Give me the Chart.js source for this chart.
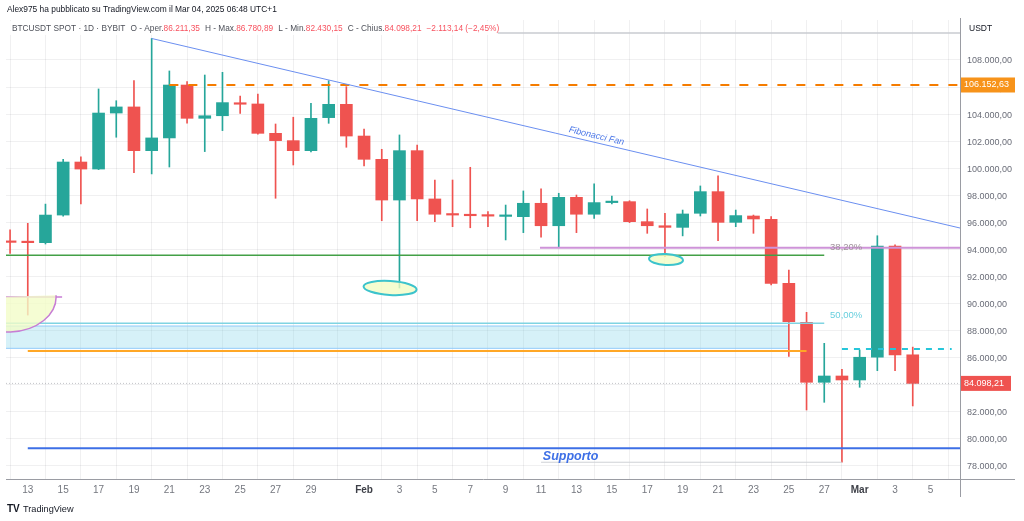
<!DOCTYPE html>
<html>
<head>
<meta charset="utf-8">
<script src="https://cdn.jsdelivr.net/npm/chart.js@4.4.1/dist/chart.umd.min.js"></script>
<style>
  html, body { margin: 0; padding: 0; background: #fff; }
  #wrap { width: 1024px; height: 521px; }
</style>
</head>
<body>
<div id="wrap"><canvas id="chart" width="1024" height="521"></canvas></div>
<script>
// daily candles, Jan 12 -> Mar 4 2025 (index 0 = Jan 12)
const dates = ['Jan 12','Jan 13','Jan 14','Jan 15','Jan 16','Jan 17','Jan 18','Jan 19','Jan 20','Jan 21',
  'Jan 22','Jan 23','Jan 24','Jan 25','Jan 26','Jan 27','Jan 28','Jan 29','Jan 30','Jan 31',
  'Feb 1','Feb 2','Feb 3','Feb 4','Feb 5','Feb 6','Feb 7','Feb 8','Feb 9','Feb 10',
  'Feb 11','Feb 12','Feb 13','Feb 14','Feb 15','Feb 16','Feb 17','Feb 18','Feb 19','Feb 20',
  'Feb 21','Feb 22','Feb 23','Feb 24','Feb 25','Feb 26','Feb 27','Feb 28','Mar 1','Mar 2',
  'Mar 3','Mar 4'];
const opens = [94570,94520,94500,96540,100460,99940,104080,104530,101300,102240,
  106150,103690,103880,104800,104750,102580,102040,101300,103740,104725,
  102380,100660,97650,101300,97730,96600,96540,96490,96440,96420,
  97410,95750,97850,96600,97460,97530,96050,95750,95630,96670,
  98270,96000,96470,96225,91495,88610,84180,84645,84350,86030,
  94250,86211.35];
const highs = [95440,95930,97350,100660,100850,105860,104990,106470,109590,107190,
  106400,106890,107090,105340,105490,103270,103770,104800,106470,106030,
  102900,101400,102460,101720,99130,99130,100070,96790,97280,98320,
  98470,98150,98020,98840,97950,97600,96990,96660,96910,98690,
  99430,96910,96540,96420,92480,89350,87060,85140,86570,95010,
  94330,86780.89];
const lows = [93710,89150,94400,96450,97360,99900,102290,99670,99580,100090,
  103340,101230,102780,104060,102510,97780,100240,101200,103320,101550,
  100170,96120,91150,96120,96050,95680,95600,95680,94700,95240,
  94900,94150,95240,96300,97360,95980,95190,93460,95000,96470,
  94650,95680,95190,91370,86100,82130,82700,78270,83810,85040,
  85040,82430.15];
const closes = [94520,94500,96540,100460,99940,104080,104530,101300,102240,106150,
  103690,103880,104850,104730,102580,102040,101300,103690,104725,102380,
  100660,97650,101300,97730,96600,96540,96490,96460,96460,97410,
  95750,97850,96600,97460,97530,96050,95750,95630,96620,98270,
  96000,96500,96250,91495,88660,84180,84645,84350,86030,94250,
  86200,84098.21];

// x axis labels (index -> text)
const tickIdx = [1,3,5,7,9,11,13,15,17,20,22,24,26,28,30,32,34,36,38,40,42,44,46,48,50,52];
const tickText = ['13','15','17','19','21','23','25','27','29','Feb','3','5','7','9','11','13','15','17','19','21','23','25','27','Mar','3','5'];
const yTicks = [78000,80000,82000,84000,86000,88000,90000,92000,94000,96000,98000,100000,102000,104000,106000,108000];

// drawn levels
const topLevel = 110000;
const resistance = 106152.63;
const fib382 = 94130;
const greenLevel = 93570;
const fib50 = 88540;
const zoneTop = 88340;
const zoneBottom = 86690;
const orangeLevel = 86492;
const dashLevel = 86640;
const supportLevel = 79300;
const lowRay = 78270;
const lastPrice = 84098.21;
const fanStart = [8, 109590];
const fanEnd = [53.67, 95583];

const xMin = -0.23, xMax = 53.67;
const UP = '#26a69a', DOWN = '#ef5350';
const candleColors = opens.map((o, i) => closes[i] >= o ? UP : DOWN);

function fmtPrice(v) {
  const s = v.toFixed(2).split('.');
  return s[0].replace(/\B(?=(\d{3})+(?!\d))/g, '.') + ',' + s[1];
}

function hline(from, to, v, color, width, dash, order, extra) {
  return Object.assign({
    type: 'line',
    data: [{x: from, y: v}, {x: to, y: v}],
    borderColor: color,
    borderWidth: width,
    borderDash: dash || [],
    pointRadius: 0,
    fill: false,
    order: order
  }, extra || {});
}

const datasets = [
  {
    type: 'bar',
    data: dates.map((d, i) => ({x: i, y: [lows[i], highs[i]]})),
    backgroundColor: candleColors,
    barThickness: 1,
    grouped: false,
    order: 21
  },
  {
    type: 'bar',
    data: dates.map((d, i) => ({x: i, y: [opens[i], closes[i]]})),
    backgroundColor: candleColors,
    barThickness: 12,
    minBarLength: 1.5,
    grouped: false,
    order: 20
  },
  // zone rectangle (fill between the two lines)
  hline(xMin, 43.95, zoneTop, '#90caf9', 1, [], 30),
  hline(xMin, 43.95, zoneBottom, '#90caf9', 1, [], 30, {fill: '-1', backgroundColor: 'rgba(128,212,234,0.32)'}),
  hline(27.5, xMax, topLevel, '#c9cbd1', 1.5, [], 5),
  hline(9, xMax, resistance, '#f57c00', 2, [9, 10], 5),
  hline(29.94, xMax, fib382, '#ce93d8', 2, [], 5),
  hline(xMin, 46, greenLevel, '#43a047', 1.5, [], 5),
  hline(xMin, 46, fib50, '#80d4e2', 1.5, [], 5),
  hline(1, 45, orangeLevel, '#ffa726', 2, [], 5),
  hline(47, 53.2, dashLevel, '#26c6da', 2, [6, 6], 5),
  hline(1, xMax, supportLevel, '#3d6fe6', 2, [], 5),
  hline(30, 47, lowRay, '#cfd1d6', 1, [], 5),
  hline(xMin, xMax, lastPrice, 'rgba(120,123,134,0.45)', 1, [1, 2], 6),
  hline(xMin, 2.94, 90484, '#c77dd4', 1.5, [], 5),
  {
    type: 'line',
    data: [{x: fanStart[0], y: fanStart[1]}, {x: fanEnd[0], y: fanEnd[1]}],
    borderColor: '#6b8ff0',
    borderWidth: 1,
    pointRadius: 0,
    fill: false,
    order: 4
  }
];

const FONT = '"Liberation Sans", Arial, sans-serif';

const drawings = {
  id: 'drawings',
  afterDatasetsDraw(chart) {
    const {ctx, chartArea: a, scales: {x, y}} = chart;
    ctx.save();
    ctx.beginPath();
    ctx.rect(a.left, a.top, a.right - a.left, a.bottom - a.top);
    ctx.clip();

    // hand drawn ellipses
    function ell(cx, cy, rxDays, ryVal, rot, stroke) {
      const px = x.getPixelForValue(cx), py = y.getPixelForValue(cy);
      const rx = Math.abs(x.getPixelForValue(cx + rxDays) - px);
      const ry = Math.abs(y.getPixelForValue(cy + ryVal) - py);
      ctx.beginPath();
      ctx.ellipse(px, py, rx, ry, rot, 0, Math.PI * 2);
      ctx.fillStyle = 'rgba(242,252,196,0.8)';
      ctx.fill();
      ctx.strokeStyle = stroke;
      ctx.lineWidth = 2;
      ctx.stroke();
    }
    ell(21.47, 91149, 1.5, 517, 0.06, '#3cc3cc');
    ell(37.06, 93255, 0.96, 400, 0.05, '#3cc3cc');

    // purple arc on the left
    const cx = x.getPixelForValue(-0.11), cy = y.getPixelForValue(90484);
    const rx = x.getPixelForValue(2.6) - cx, ry = y.getPixelForValue(90484 - 2587) - cy;
    ctx.beginPath();
    ctx.moveTo(cx - 10, cy);
    ctx.ellipse(cx, cy, rx, ry, 0, -0.05, Math.PI * 0.6);
    ctx.lineTo(a.left, cy + ry);
    ctx.closePath();
    ctx.fillStyle = 'rgba(242,252,200,0.8)';
    ctx.fill();
    ctx.beginPath();
    ctx.ellipse(cx, cy, rx, ry, 0, -0.05, Math.PI * 0.6);
    ctx.strokeStyle = '#c77dd4';
    ctx.lineWidth = 1.5;
    ctx.stroke();

    // fan label along the line
    const p1 = [x.getPixelForValue(fanStart[0]), y.getPixelForValue(fanStart[1])];
    const p2 = [x.getPixelForValue(fanEnd[0]), y.getPixelForValue(fanEnd[1])];
    const ang = Math.atan2(p2[1] - p1[1], p2[0] - p1[0]);
    const tx = x.getPixelForValue(33.05);
    const ty = p1[1] + (tx - p1[0]) * Math.tan(ang);
    ctx.save();
    ctx.translate(tx, ty);
    ctx.rotate(ang);
    ctx.font = 'italic 9px ' + FONT;
    ctx.fillStyle = '#4f7ae8';
    ctx.textAlign = 'center';
    ctx.textBaseline = 'bottom';
    ctx.fillText('Fibonacci Fan', 0, -2);
    ctx.restore();

    ctx.textAlign = 'left';
    ctx.textBaseline = 'middle';
    ctx.font = '9.5px ' + FONT;
    ctx.fillStyle = '#a0939b';
    ctx.fillText('38,20%', x.getPixelForValue(46.33), y.getPixelForValue(94160));
    ctx.fillStyle = '#69cfde';
    ctx.fillText('50,00%', x.getPixelForValue(46.33), y.getPixelForValue(89101));

    ctx.font = 'italic bold 12.5px ' + FONT;
    ctx.fillStyle = '#3d6fe6';
    ctx.fillText('Supporto', x.getPixelForValue(30.1), y.getPixelForValue(78658));
    ctx.restore();
  },
  afterDraw(chart) {
    const {ctx, chartArea: a, scales: {y}} = chart;
    ctx.save();
    ctx.textBaseline = 'middle';
    ctx.textAlign = 'left';

    // header
    ctx.font = '8.4px ' + FONT;
    ctx.fillStyle = '#131722';
    ctx.fillText('Alex975 ha pubblicato su TradingView.com il Mar 04, 2025 06:48 UTC+1', 7, 10);

    const parts = [
      ['BTCUSDT SPOT · 1D · BYBIT', '#4d5059', 5],
      ['O - Aper.', '#4d5059', 0], [fmtPrice(opens[51]), '#f7525f', 5],
      ['H - Max.', '#4d5059', 0], [fmtPrice(highs[51]), '#f7525f', 5],
      ['L - Min.', '#4d5059', 0], [fmtPrice(lows[51]), '#f7525f', 5],
      ['C - Chius.', '#4d5059', 0], [fmtPrice(closes[51]), '#f7525f', 5],
      ['\u22122.113,14 (\u22122,45%)', '#f7525f', 0]
    ];
    ctx.font = '8.3px ' + FONT;
    ctx.fillStyle = 'rgba(255,255,255,0.85)';
    ctx.fillRect(a.left, 21, 492, 14);
    let px = 12;
    for (const [t, c, gap] of parts) {
      ctx.fillStyle = c;
      ctx.fillText(t, px, 29);
      px += ctx.measureText(t).width + gap;
    }

    // axis unit
    ctx.font = '8.5px ' + FONT;
    ctx.fillStyle = '#131722';
    ctx.fillText('USDT', 969, 29);

    // axis lines running past the plot
    ctx.strokeStyle = '#9a9ca3';
    ctx.lineWidth = 1;
    ctx.beginPath();
    ctx.moveTo(a.right + 0.5, a.top - 2);
    ctx.lineTo(a.right + 0.5, a.top);
    ctx.moveTo(a.right + 0.5, a.bottom);
    ctx.lineTo(a.right + 0.5, a.bottom + 18);
    ctx.moveTo(a.right, a.bottom + 0.5);
    ctx.lineTo(1015, a.bottom + 0.5);
    ctx.stroke();

    // price boxes on the axis
    function box(v, bg, w) {
      const py = y.getPixelForValue(v);
      ctx.fillStyle = bg;
      ctx.fillRect(a.right + 1, py - 7.5, w, 15);
      ctx.fillStyle = '#ffffff';
      ctx.font = '9px ' + FONT;
      ctx.fillText(fmtPrice(v), a.right + 4, py);
    }
    box(resistance, '#f7931a', 54);
    box(lastPrice, '#ef5350', 50);

    // footer
    ctx.fillStyle = '#131722';
    ctx.font = 'bold 10px ' + FONT;
    ctx.fillText('TV', 7, 509);
    ctx.font = '9.2px ' + FONT;
    ctx.fillText('TradingView', 23, 509);
    ctx.restore();
  }
};

const ctx = document.getElementById('chart').getContext('2d');
new Chart(ctx, {
  type: 'bar',
  data: {datasets: datasets},
  options: {
    responsive: false,
    animation: false,
    devicePixelRatio: 1,
    layout: {padding: {left: 6, right: 0, top: 20, bottom: 20}},
    plugins: {legend: {display: false}, tooltip: {enabled: false}},
    scales: {
      x: {
        type: 'linear',
        min: xMin,
        max: xMax,
        offset: false,
        afterBuildTicks: axis => { axis.ticks = tickIdx.map(v => ({value: v})); },
        afterFit: axis => { axis.height = 22; },
        grid: {color: 'rgba(42,46,57,0.07)', drawTicks: false},
        border: {color: '#9a9ca3'},
        ticks: {
          autoSkip: false,
          maxRotation: 0,
          padding: 5,
          callback: v => tickText[tickIdx.indexOf(v)],
          color: c => /[A-Z]/.test(tickText[c.index] || '') ? '#3e4048' : '#74777f',
          font: c => ({family: FONT, size: 10, weight: /[A-Z]/.test(tickText[c.index] || '') ? 'bold' : 'normal'})
        }
      },
      y: {
        position: 'right',
        min: 77032,
        max: 110956,
        afterBuildTicks: axis => { axis.ticks = yTicks.map(v => ({value: v})); },
        afterFit: axis => { axis.width = 64; },
        grid: {color: 'rgba(42,46,57,0.07)', drawTicks: false},
        border: {color: '#9a9ca3'},
        ticks: {
          padding: 7,
          labelOffset: 1,
          callback: v => fmtPrice(v),
          color: '#6a6d78',
          font: {family: FONT, size: 9}
        }
      }
    }
  },
  plugins: [drawings]
});
</script>
</body>
</html>
